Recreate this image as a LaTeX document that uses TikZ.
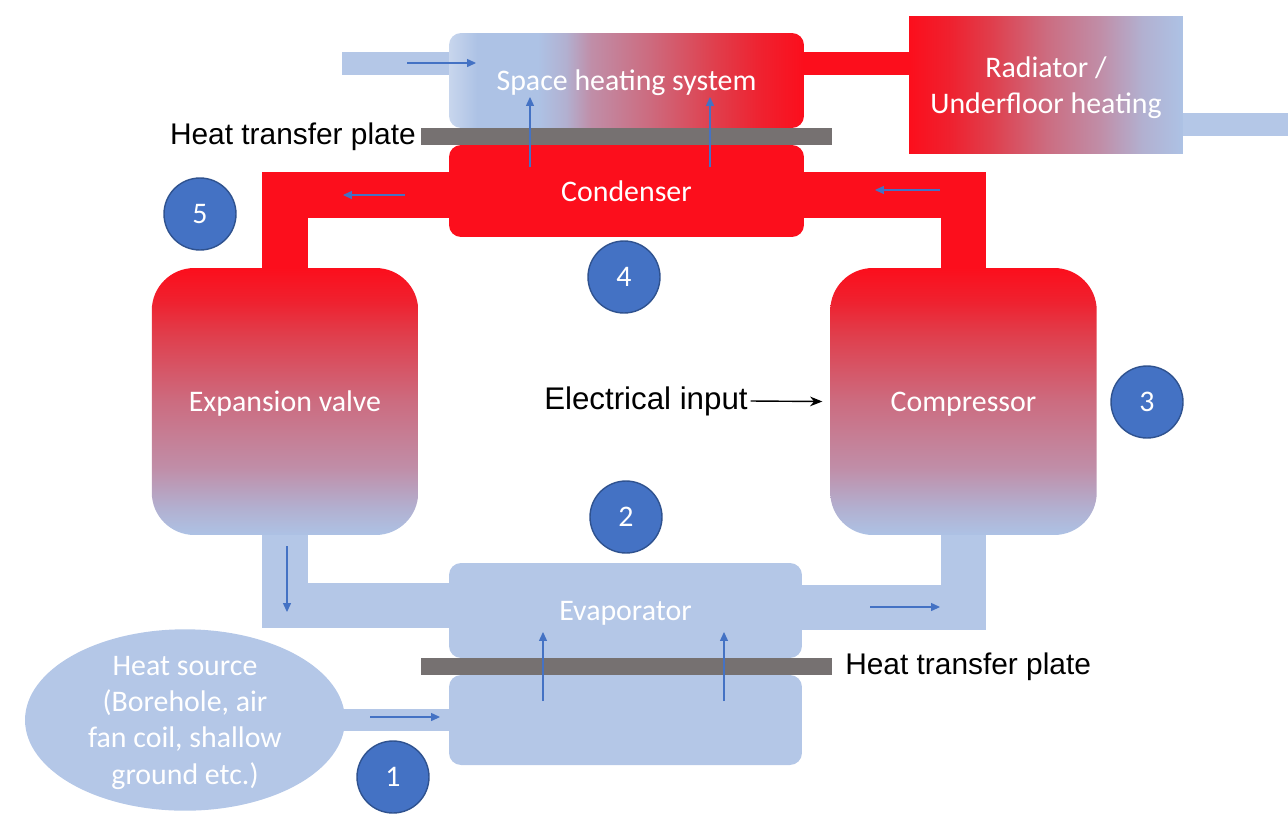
\documentclass[tikz,border=0pt]{standalone}
\usepackage{fontspec}
\setmainfont{Carlito}
\newfontfamily\labelfont{Liberation Sans}
\usepackage{tikz}
\usetikzlibrary{arrows.meta,shapes}
\usetikzlibrary{positioning}

\definecolor{hot}{RGB}{252,14,28}
\definecolor{hotter}{RGB}{239,33,47}
\definecolor{warm}{RGB}{224,62,76}
\definecolor{pink}{RGB}{204,108,128}
\definecolor{mauve}{RGB}{192,142,168}
\definecolor{lilac}{RGB}{178,176,208}
\definecolor{cold}{RGB}{180,199,231}
\definecolor{coldlight}{RGB}{200,214,237}
\definecolor{coldmid}{RGB}{173,194,229}
\definecolor{plategray}{RGB}{118,113,113}
\definecolor{stageblue}{RGB}{68,114,196}
\definecolor{stageedge}{RGB}{47,82,143}

% gradients: the box spans 25bp..75bp
\pgfdeclarehorizontalshading{heatshade}{100bp}{color(0bp)=(coldlight); color(25bp)=(coldlight);
    color(29bp)=(coldmid); color(37.5bp)=(coldmid); color(41.5bp)=(lilac); color(45bp)=(mauve);
    color(53bp)=(pink); color(62.5bp)=(warm); color(69bp)=(hotter); color(75bp)=(hot);
    color(100bp)=(hot)}
\pgfdeclarehorizontalshading{radshade}{100bp}{color(0bp)=(hot); color(25bp)=(hot);
    color(32.5bp)=(hotter); color(40bp)=(warm); color(50bp)=(pink); color(60bp)=(mauve);
    color(67.5bp)=(lilac); color(75bp)=(coldmid); color(100bp)=(coldmid)}
\pgfdeclareverticalshading{tankshade}{100bp}{color(0bp)=(coldmid); color(25bp)=(coldmid);
    color(30bp)=(lilac); color(37.5bp)=(mauve); color(50bp)=(pink); color(62.5bp)=(warm);
    color(68.75bp)=(hotter); color(75bp)=(hot); color(100bp)=(hot)}

\tikzset{
    box/.style={draw=none, inner sep=0pt, outer sep=0pt, text=white, text depth=0pt,
        font=\fontsize{17}{20.7}\selectfont, align=center},
    hotbox/.style={box, fill=hot, rounded corners=0.24cm},
    coldbox/.style={box, fill=cold, rounded corners=0.24cm},
    tank/.style={box, rounded corners=0.85cm, shading=tankshade,
        minimum width=5.33cm, minimum height=5.34cm},
    plate/.style={fill=plategray, inner sep=0pt, outer sep=0pt,
        minimum width=8.22cm, minimum height=0.34cm},
    stage/.style={circle, draw=stageedge, line width=0.8pt, fill=stageblue, text=white,
        minimum size=1.44cm, inner sep=0pt, font=\fontsize{17}{20}\selectfont},
    hotpipe/.style={draw=hot, line width=26pt},
    coldpipe/.style={draw=cold, line width=26pt},
    thinpipe/.style={line width=13pt},
    flow/.style={draw=stageblue, line width=0.6pt, -{Triangle[length=5pt,width=4.5pt]}},
    caption/.style={font=\labelfont\fontsize{17}{20}\selectfont, inner sep=0pt},
    power/.style={draw=black, line width=0.8pt, -{Stealth[length=7pt,width=5.5pt]}},
}

\begin{document}
\begin{tikzpicture}[x=0.02cm, y=-0.02cm]
	\useasboundingbox (0,0) rectangle (1288,822);
	% heating side
	\node[box, rounded corners=0.24cm, shading=heatshade, minimum width=7.1cm, minimum height=1.9cm]
		(sh) at (626.5,80.5) {Space heating system};
	\node[box, shading=radshade, minimum width=5.48cm, minimum height=2.76cm]
		(rad) at (1046,85) {Radiator /\\Underfloor heating};
	\node[plate] (ptop) at (626.5,136.5) {};
	% refrigerant loop
	\node[hotbox, minimum width=7.1cm, minimum height=1.84cm] (cond) at (626.5,191) {Condenser};
	\node[tank] (exp) at (285,401.5) {Expansion valve};
	\node[tank] (comp) at (963.5,401.5) {Compressor};
	\node[coldbox, minimum width=7.06cm, minimum height=1.9cm] (evap) at (625.5,610.5) {Evaporator};
	\node[plate] (pbot) at (626.5,666.5) {};
	% source side
	\node[coldbox, minimum width=7.06cm, minimum height=1.8cm] (low) at (625.5,720) {};
	\node[box, ellipse, fill=cold, minimum width=6.4cm, minimum height=3.56cm] (src) at (185,720)
		{Heat source\\(Borehole, air\\fan coil, shallow\\ground etc.)};
	%
	\coordinate (inlet) at (342,63.5);
	\coordinate (outlet) at (1288,124.5);
	\coordinate (hotout) at ([yshift=9.6pt]sh.east);
	%
	\draw[coldpipe,thinpipe] (inlet) -- (inlet -| sh.west);
	\draw[hotpipe,thinpipe] (hotout) -- (hotout -| rad.west);
	\draw[coldpipe,thinpipe] (outlet -| rad.east) -- (outlet);
	\draw[hotpipe] ([yshift=-2.3pt]cond.west) -| (exp.north);
	\draw[hotpipe] ([yshift=-2.3pt]cond.east) -| (comp.north);
	\draw[coldpipe] (exp.south) |- ([yshift=2.8pt]evap.west);
	\draw[coldpipe] ([yshift=1.7pt]evap.east) -| (comp.south);
	\draw[coldpipe,thinpipe] ([xshift=-3pt]src.east) -- (low.west);
	% flow directions
	\draw[flow] (407,63) -- (476,63);
	\draw[flow] (530,167) -- (530,97);
	\draw[flow] (710,167) -- (710,97);
	\draw[flow] (405,195) -- (343,195);
	\draw[flow] (940,190) -- (875,190);
	\draw[flow] (287,546) -- (287,612);
	\draw[flow] (870,607) -- (940,607);
	\draw[flow] (543,701) -- (543,632);
	\draw[flow] (724,701) -- (724,632);
	\draw[flow] (370,717) -- (440,717);
	% labels
	\node[caption, anchor=east] (ptoplabel) at ([xshift=-2.8pt]ptop.west) {Heat transfer plate};
	\node[caption, anchor=west] (pbotlabel) at ([xshift=7.4pt]pbot.east) {Heat transfer plate};
	\node[caption, anchor=east, font=\labelfont\fontsize{17.8}{21}\selectfont] (elec) at (748,401)
		{Electrical input};
	\draw[power] ([xshift=1.5pt]elec.east) -- ([xshift=-4.5pt]comp.west);
	% stages
	\node[stage] (s1) at (393,777) {1};
	\node[stage] (s2) at (626,517) {2};
	\node[stage] (s3) at (1147,402) {3};
	\node[stage] (s4) at (624,277) {4};
	\node[stage] (s5) at (200,214) {5};
\end{tikzpicture}
\end{document}
